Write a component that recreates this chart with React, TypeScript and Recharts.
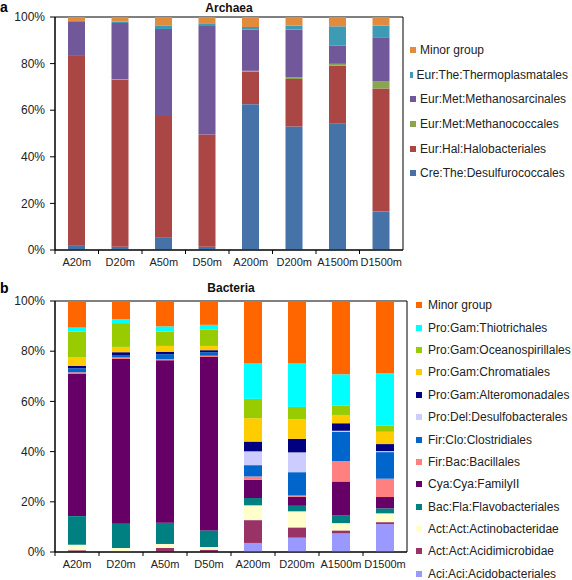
import { BarChart, Bar, XAxis, YAxis, Legend, ReferenceArea } from "recharts";

const sites = ["A20m", "D20m", "A50m", "D50m", "A200m", "D200m", "A1500m", "D1500m"];
const percentTicks = [0, 20, 40, 60, 80, 100];

// Archaea, bottom of the stack first
const creDesulfurococcales = [2.1, 1.4, 5.3, 1.4, 62.6, 53.0, 54.2, 16.5];
const eurHalobacteriales = [81.2, 71.8, 52.2, 48.2, 13.9, 20.4, 24.9, 52.8];
const eurMethanococcales = [0, 0.2, 0, 0, 0.4, 0.7, 0.8, 3.2];
const eurMethanosarcinales = [14.6, 24.0, 37.3, 46.5, 17.7, 20.5, 7.9, 18.8];
const eurThermoplasmatales = [0.4, 0.6, 1.6, 1.2, 1.1, 1.7, 8.2, 5.0];
const archaeaMinor = [1.7, 2.0, 3.6, 2.7, 4.3, 3.7, 4.0, 3.7];

// Bacteria, bottom of the stack first
const aciAcidobacteriales = [0, 0, 0, 0, 3.6, 5.7, 7.4, 11.1];
const actAcidimicrobidae = [0.7, 0.3, 1.6, 0.9, 9.1, 4.1, 1.2, 0.8];
const actActinobacteridae = [2.2, 1.3, 1.6, 1.1, 5.9, 6.4, 2.9, 3.5];
const bacFlavobacteriales = [11.4, 9.7, 8.5, 6.6, 2.9, 2.2, 3.0, 2.0];
const cyaFamilyII = [56.8, 65.6, 64.7, 69.1, 7.3, 3.6, 13.6, 4.5];
const firBacillales = [0.5, 0.6, 0.5, 0.5, 1.3, 0.5, 8.1, 7.3];
const firClostridiales = [1.6, 1.0, 1.9, 1.4, 4.5, 9.3, 11.7, 10.6];
const proDesulfobacterales = [0, 0, 0, 0, 5.5, 7.9, 0.4, 0.4];
const proAlteromonadales = [1.0, 1.1, 1.0, 0.8, 3.9, 5.4, 3.0, 2.8];
const proChromatiales = [3.3, 2.1, 2.3, 1.7, 9.3, 7.8, 3.3, 4.9];
const proOceanospirillales = [10.3, 9.5, 5.7, 6.6, 7.7, 4.9, 3.8, 2.4];
const proThiotrichales = [1.6, 1.6, 2.1, 1.8, 14.1, 17.3, 12.4, 20.9];
const bacteriaMinor = [10.6, 7.2, 10.1, 9.5, 24.9, 24.9, 29.2, 28.8];

type Series = { key: string; name: string; color: string; values: number[] };

const archaeaSeries: Series[] = [
  { key: "cre", name: "Cre:The:Desulfurococcales", color: "#4572A7", values: creDesulfurococcales },
  { key: "hal", name: "Eur:Hal:Halobacteriales", color: "#AA4643", values: eurHalobacteriales },
  { key: "mcoc", name: "Eur:Met:Methanococcales", color: "#89A54E", values: eurMethanococcales },
  { key: "msar", name: "Eur:Met:Methanosarcinales", color: "#71589A", values: eurMethanosarcinales },
  { key: "thermo", name: "Eur:The:Thermoplasmatales", color: "#3E9BB5", values: eurThermoplasmatales },
  { key: "minor", name: "Minor group", color: "#E08B3E", values: archaeaMinor },
];

const bacteriaSeries: Series[] = [
  { key: "aci", name: "Aci:Aci:Acidobacteriales", color: "#9999FF", values: aciAcidobacteriales },
  { key: "acm", name: "Act:Act:Acidimicrobidae", color: "#993366", values: actAcidimicrobidae },
  { key: "actb", name: "Act:Act:Actinobacteridae", color: "#FFFFCC", values: actActinobacteridae },
  { key: "flav", name: "Bac:Fla:Flavobacteriales", color: "#008080", values: bacFlavobacteriales },
  { key: "cya", name: "Cya:Cya:FamilyII", color: "#660066", values: cyaFamilyII },
  { key: "bac", name: "Fir:Bac:Bacillales", color: "#FF8080", values: firBacillales },
  { key: "clo", name: "Fir:Clo:Clostridiales", color: "#0066CC", values: firClostridiales },
  { key: "des", name: "Pro:Del:Desulfobacterales", color: "#CCCCFF", values: proDesulfobacterales },
  { key: "alt", name: "Pro:Gam:Alteromonadales", color: "#000080", values: proAlteromonadales },
  { key: "chrom", name: "Pro:Gam:Chromatiales", color: "#FFCC00", values: proChromatiales },
  { key: "ocean", name: "Pro:Gam:Oceanospirillales", color: "#99CC00", values: proOceanospirillales },
  { key: "thio", name: "Pro:Gam:Thiotrichales", color: "#00FFFF", values: proThiotrichales },
  { key: "minor", name: "Minor group", color: "#FF6600", values: bacteriaMinor },
];

const toRows = (series: Series[]) =>
  sites.map((site, i) => {
    const row: Record<string, string | number> = { site };
    series.forEach((s) => (row[s.key] = s.values[i]));
    return row;
  });

const FONT = "'Liberation Sans', Arial, Helvetica, sans-serif";
const TEXT = "#222";

// x labels with small tick marks between the categories
function SiteTick(props: any) {
  const { x, y, payload, width, visibleTicksCount } = props;
  const band = (width ?? 348) / (visibleTicksCount || 8);
  const axisY = y - 8;
  const left = x - band / 2;
  return (
    <g>
      <line x1={left} x2={left} y1={axisY} y2={axisY + 4} stroke="#000" />
      <text x={x} y={y} dy="0.71em" textAnchor="middle" fontSize={11} fill={TEXT} fontFamily={FONT}>
        {payload.value}
      </text>
    </g>
  );
}

function makeLegend(series: Series[], rowHeight: number, boxGap: number) {
  return () => (
    <div style={{ fontFamily: FONT, fontSize: 12, color: TEXT }}>
      {[...series].reverse().map((s) => (
        <div key={s.key} style={{ display: "flex", alignItems: "center", height: rowHeight, whiteSpace: "nowrap" }}>
          <span style={{ width: 6, height: 6, background: s.color, marginLeft: 2, marginRight: boxGap }} />
          <span>{s.name}</span>
        </div>
      ))}
    </div>
  );
}

type PanelProps = {
  title: string;
  series: Series[];
  height: number;
  margin: { top: number; right: number; bottom: number; left: number };
  legendStyle: React.CSSProperties;
  legendRow: number;
  legendGap: number;
  barSize: number;
  titleOffset: number;
};

function Panel({ title, series, height, margin, legendStyle, legendRow, legendGap, barSize, titleOffset }: PanelProps) {
  return (
    <BarChart width={572} height={height} data={toRows(series)} margin={margin}>
      <XAxis
        dataKey="site"
        height={20}
        interval={0}
        tickLine={false}
        tickSize={4}
        tickMargin={4}
        axisLine={{ stroke: "#000" }}
        tick={<SiteTick />}
      />
      <YAxis
        width={50}
        domain={[0, 100]}
        ticks={percentTicks}
        tickFormatter={(v) => `${v}%`}
        tickSize={5}
        tickMargin={5}
        axisLine={{ stroke: "#000" }}
        tickLine={{ stroke: "#000" }}
        tick={{ fontSize: 12, fill: TEXT, fontFamily: FONT }}
      />
      {series.map((s) => (
        <Bar key={s.key} dataKey={s.key} name={s.name} stackId="a" fill={s.color} barSize={barSize} isAnimationActive={false} />
      ))}
      <ReferenceArea
        y1={0}
        y2={100}
        fill="none"
        fillOpacity={0}
        stroke="#000"
        strokeWidth={1}
        label={{ value: title, position: "top", offset: titleOffset, fontSize: 12, fontWeight: "bold", fill: "#111", fontFamily: FONT }}
      />
      <Legend
        layout="vertical"
        align="right"
        verticalAlign="top"
        wrapperStyle={{ ...legendStyle, right: "auto", width: 160 }}
        content={makeLegend(series, legendRow, legendGap)}
      />
    </BarChart>
  );
}

export default function App() {
  return (
    <div style={{ position: "absolute", left: 0, top: 0, width: 572, height: 580, background: "#fff", fontFamily: FONT }}>
      <span style={{ position: "absolute", left: 0, top: 0, fontSize: 14, lineHeight: "14px", fontWeight: "bold" }}>a</span>
      <span style={{ position: "absolute", left: 0, top: 281, fontSize: 14, lineHeight: "14px", fontWeight: "bold" }}>b</span>
      <div style={{ position: "absolute", left: 0, top: 0 }}>
        <Panel
          title="Archaea"
          series={archaeaSeries}
          height={280}
          margin={{ top: 17, right: 9, bottom: 10, left: 5 }}
          legendStyle={{ left: 408, top: 38 }}
          legendRow={24.6}
          legendGap={4}
          barSize={17}
          titleOffset={5}
        />
      </div>
      <div style={{ position: "absolute", left: 0, top: 280 }}>
        <Panel
          title="Bacteria"
          series={bacteriaSeries}
          height={300}
          margin={{ top: 21, right: 5, bottom: 8, left: 5 }}
          legendStyle={{ left: 414, top: 14 }}
          legendRow={22.4}
          legendGap={6}
          barSize={18}
          titleOffset={9}
        />
      </div>
    </div>
  );
}
